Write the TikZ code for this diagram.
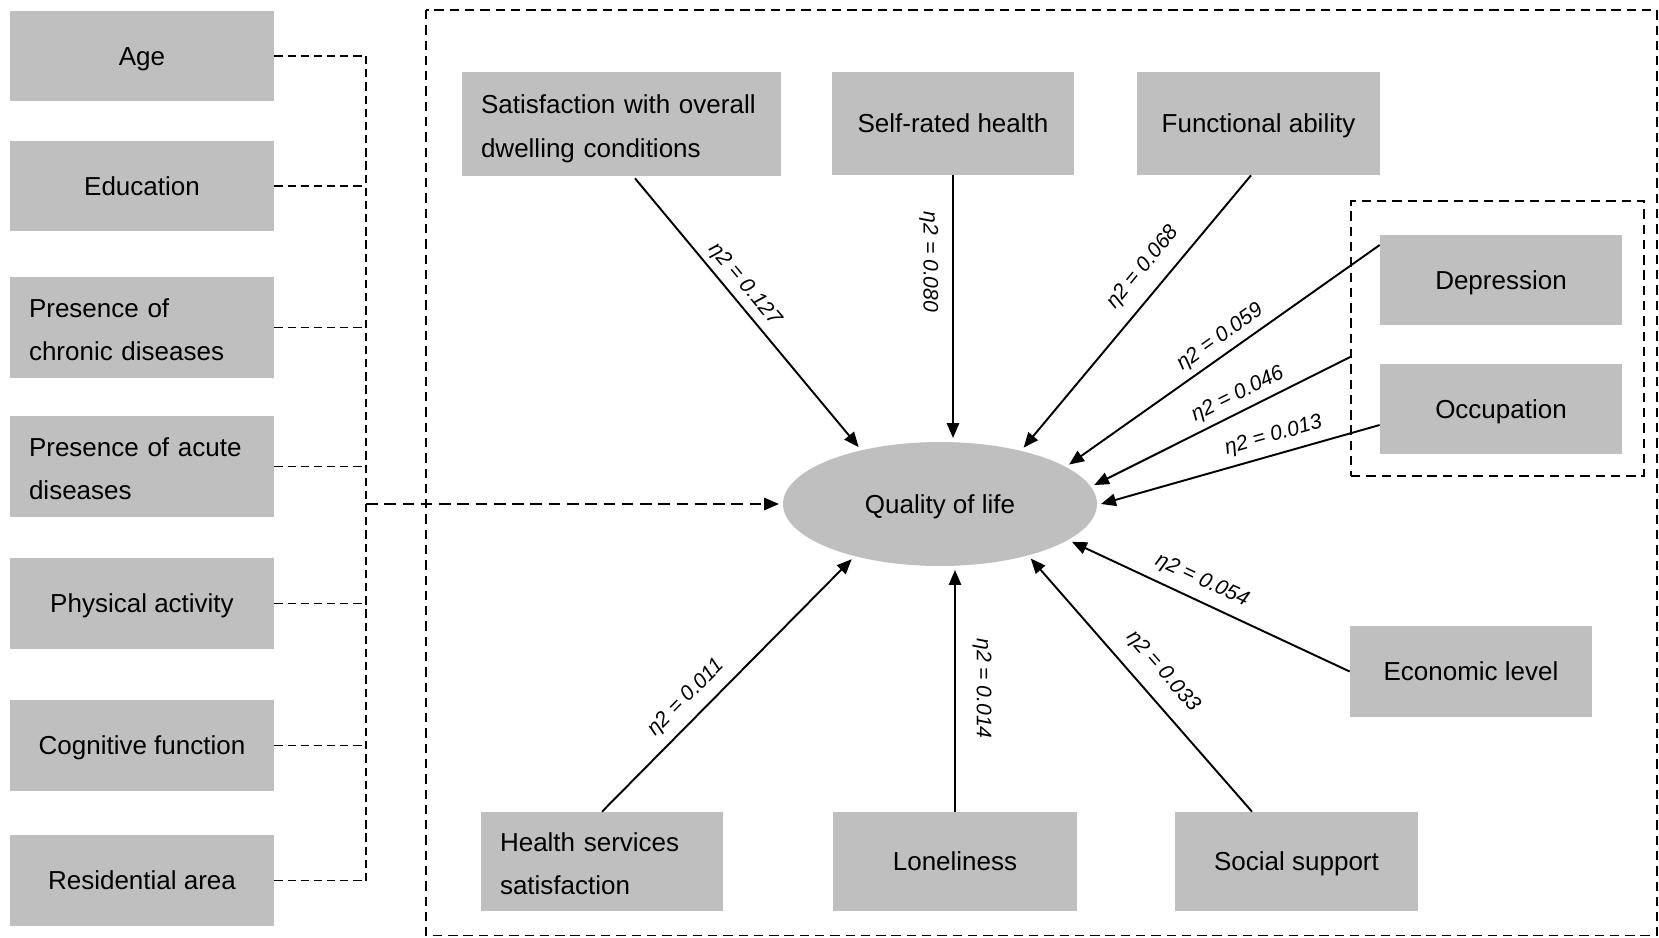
\documentclass[tikz,border=0pt]{standalone}
\usepackage{fontspec}
\setmainfont{Liberation Sans}
\usetikzlibrary{arrows.meta,calc,shapes.geometric}
\definecolor{boxgray}{RGB}{191,191,191}
\tikzset{
	box/.style={fill=boxgray,inner sep=0pt,align=center,text height=10.6pt,text depth=0pt,font=\fontsize{14.8pt}{24.7pt}\selectfont},
	twoline/.style={box,align=left,inner xsep=0.38cm,text width=#1,text height=13.3pt,text depth=24.7pt},
	lbl/.style={font=\fontsize{12pt}{12pt}\selectfont\itshape},
	arr/.style={line width=1.1pt,-{Triangle[length=8.5pt,width=7pt]}},
	con/.style={line width=1pt,dash pattern=on 4.7pt off 2.8pt},
	frm/.style={line width=0.9pt,dash pattern=on 5.3pt off 3.4pt}
}
\begin{document}
\begin{tikzpicture}[x=0.02cm,y=-0.02cm]
\useasboundingbox (0,0) rectangle (1659,937);
\draw[frm] (426,10) rectangle (1657,935.5);
\foreach \n/\y/\h/\t in {age/56/1.8/Age,edu/186/1.8/Education,phy/603.5/1.82/Physical activity,cog/745.5/1.82/Cognitive function,res/880.5/1.82/Residential area}
	\node[box,minimum width=5.28cm,minimum height=\h cm] (\n) at (142,\y) {\t};
\node[twoline=4.52cm,minimum height=2.02cm] (chr) at (142,327.5) {Presence of\\chronic diseases};
\node[twoline=4.52cm,minimum height=2.02cm] (acu) at (142,466.5) {Presence of acute\\diseases};

\node[twoline=5.62cm,minimum height=2.08cm] (sat) at (621.5,124) {Satisfaction with overall\\dwelling conditions};
\node[box,minimum width=4.84cm,minimum height=2.06cm] (self) at (953,123.5) {Self-rated health};
\node[box,minimum width=4.86cm,minimum height=2.06cm] (func) at (1258.5,123.5) {Functional ability};
\node[box,minimum width=4.84cm,minimum height=1.8cm] (dep) at (1501,280) {Depression};
\node[box,minimum width=4.84cm,minimum height=1.8cm] (occ) at (1501,409) {Occupation};
\node[box,minimum width=4.84cm,minimum height=1.82cm] (eco) at (1471,671.5) {Economic level};
\node[twoline=4.08cm,minimum height=1.98cm] (hs) at (602,861.5) {Health services\\satisfaction};
\node[box,minimum width=4.88cm,minimum height=1.98cm] (lone) at (955,861.5) {Loneliness};
\node[box,minimum width=4.86cm,minimum height=1.98cm] (soc) at (1296.5,861.5) {Social support};
\node[box,ellipse,outer sep=0.08cm,minimum width=6.28cm,minimum height=2.48cm] (qol) at (940,504) {Quality of life};
\node[frm,draw,inner sep=0pt,minimum width=5.86cm,minimum height=5.5cm] (grp) at (1497.5,338.5) {};

\coordinate (bus) at (366,504);
\foreach \n in {age,edu,chr,acu,phy,cog,res}
	\draw[con] (\n.east) -- (\n.east -| bus);
\draw[con] (age.east -| bus) -- (res.east -| bus);
\draw[arr,dash pattern=on 6.6pt off 3.8pt] (bus) -- (qol.west);

\draw[arr] ($(sat.south)+(13.5,2)$) -- node[lbl,sloped,above,pos=0.433] {η2 = 0.127} (qol.145);
\draw[arr] (self.south) -- node[lbl,rotate=-90,below=4.5pt,pos=0.33] {η2 = 0.080} (self.south |- qol.north);
\draw[arr] ($(func.south)+(-7.5,0)$) -- node[lbl,sloped,above=4pt,pos=0.395] {η2 = 0.068} (qol.34);
\draw[arr] ($(dep.west)+(0,-35)$) -- node[lbl,sloped,above,pos=0.483] {η2 = 0.059} (qol.17);
\draw[arr] ($(grp.west)+(0,18.5)$) -- node[lbl,sloped,above,pos=0.41] {η2 = 0.046} (qol.7);
\draw[arr] ($(occ.west)+(0,16)$) -- node[lbl,sloped,above=1pt,pos=0.363] {η2 = 0.013} (qol.east);
\draw[arr] (eco.west) -- node[lbl,sloped,above=2pt,pos=0.562] {η2 = 0.054} (qol.-16);
\draw[arr] ($(soc.north)+(-44.5,0)$) -- node[lbl,sloped,above=5pt,pos=0.488] {η2 = 0.033} (qol.-31);
\draw[arr] (lone.north) -- node[lbl,rotate=-90,above=6pt,pos=0.51] {η2 = 0.014} (lone.north |- qol.south);
\draw[arr] (hs.north) -- node[lbl,sloped,above=2pt,pos=0.395] {η2 = 0.011} (qol.212);
\end{tikzpicture}
\end{document}
